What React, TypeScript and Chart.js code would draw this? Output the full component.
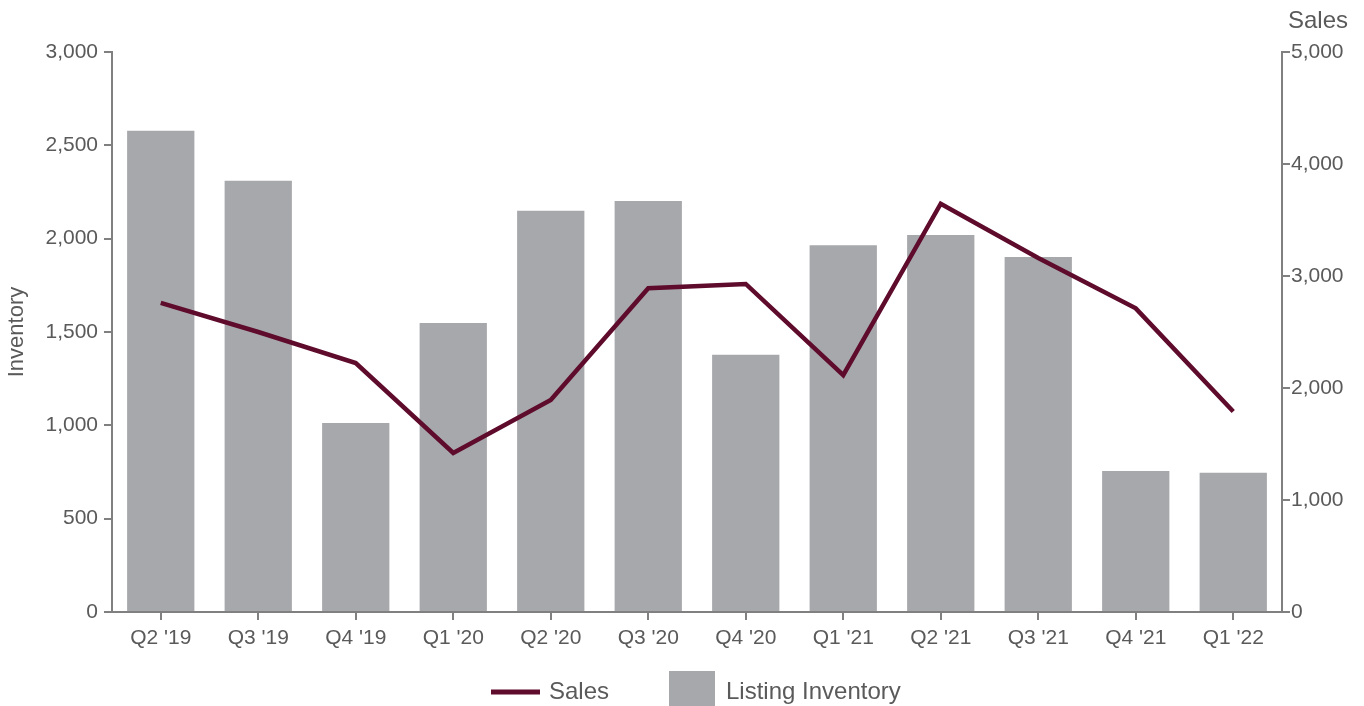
import React, { useEffect, useRef } from "react";
import { Chart, registerables } from "chart.js";

Chart.register(...registerables);

const categories = ["Q2 '19", "Q3 '19", "Q4 '19", "Q1 '20", "Q2 '20", "Q3 '20", "Q4 '20", "Q1 '21", "Q2 '21", "Q3 '21", "Q4 '21", "Q1 '22"];
const inventory = [2578, 2310, 1013, 1548, 2149, 2202, 1378, 1965, 2020, 1902, 755, 746];
const sales = [2760, 2500, 2223, 1420, 1893, 2890, 2929, 2115, 3645, 3160, 2711, 1790];

const FONT = "'Liberation Sans', Arial, sans-serif";
const TEXT = "#5a5a5a";
const AXIS = "#808080";
const BAR = "#a7a8ab";
const LINE = "#5e0b2c";

const customPlugin = {
  id: "customDecor",
  afterDraw(chart: any) {
    const ctx = chart.ctx;
    const y1 = chart.scales.y1;
    ctx.save();
    // right axis header
    ctx.fillStyle = TEXT;
    ctx.font = `24px ${FONT}`;
    ctx.textAlign = "left";
    ctx.textBaseline = "middle";
    ctx.fillText("Sales", y1.left + 6, 21);
    // legend
    const cy = 692;
    const start = chart.width / 2 - 191;
    ctx.strokeStyle = LINE;
    ctx.lineWidth = 5;
    ctx.beginPath();
    ctx.moveTo(start, cy);
    ctx.lineTo(start + 49, cy);
    ctx.stroke();
    ctx.fillStyle = TEXT;
    ctx.font = `24px ${FONT}`;
    ctx.fillText("Sales", start + 58, cy);
    const bx = start + 178;
    ctx.fillStyle = BAR;
    ctx.fillRect(bx, cy - 21, 46, 46);
    ctx.fillStyle = TEXT;
    ctx.fillText("Listing Inventory", bx + 57, cy);
    ctx.restore();
  },
};

export default function App() {
  const ref = useRef<HTMLCanvasElement>(null);
  useEffect(() => {
    if (!ref.current) return;
    const chart = new Chart(ref.current, {
      type: "bar",
      data: {
        labels: categories,
        datasets: [
          {
            type: "line",
            label: "Sales",
            data: sales,
            yAxisID: "y1",
            borderColor: LINE,
            backgroundColor: LINE,
            borderWidth: 4.5,
            pointRadius: 0,
            tension: 0,
          } as any,
          {
            type: "bar",
            label: "Listing Inventory",
            data: inventory,
            yAxisID: "y",
            backgroundColor: BAR,
            barPercentage: 0.69,
            categoryPercentage: 1,
          },
        ],
      },
      options: {
        animation: false,
        responsive: true,
        maintainAspectRatio: false,
        layout: { padding: { top: 52, left: 0, right: 0, bottom: 0 } },
        plugins: {
          legend: { display: false },
          tooltip: { enabled: false },
        },
        scales: {
          x: {
            offset: true,
            grid: { display: true, drawOnChartArea: false, drawTicks: true, tickLength: 8, color: AXIS, lineWidth: 2, offset: false },
            border: { display: true, color: AXIS, width: 2 },
            ticks: { color: TEXT, font: { family: FONT, size: 21 }, padding: 6, maxRotation: 0, autoSkip: false },
            afterFit: (s: any) => { s.height = 94; },
          },
          y: {
            position: "left",
            min: 0,
            max: 3000,
            ticks: { stepSize: 500, color: TEXT, font: { family: FONT, size: 21 }, padding: 6 },
            grid: { display: true, drawOnChartArea: false, drawTicks: true, tickLength: 8, color: AXIS, lineWidth: 2 },
            border: { display: true, color: AXIS, width: 2 },
            title: { display: true, text: "Inventory", color: TEXT, font: { family: FONT, size: 22 }, padding: { top: 4, bottom: 4 } },
            afterFit: (s: any) => { s.width = 112; },
          },
          y1: {
            position: "right",
            min: 0,
            max: 5000,
            ticks: { stepSize: 1000, color: TEXT, font: { family: FONT, size: 21 }, padding: 1 },
            grid: { display: true, drawOnChartArea: false, drawTicks: true, tickLength: 8, color: AXIS, lineWidth: 2 },
            border: { display: true, color: AXIS, width: 2 },
            afterFit: (s: any) => { s.width = 82; },
          },
        },
      },
      plugins: [customPlugin],
    });
    return () => chart.destroy();
  }, []);
  return (
    <div style={{ position: "absolute", left: 0, top: 0, width: 1364, height: 706, background: "#fff" }}>
      <canvas ref={ref} />
    </div>
  );
}
